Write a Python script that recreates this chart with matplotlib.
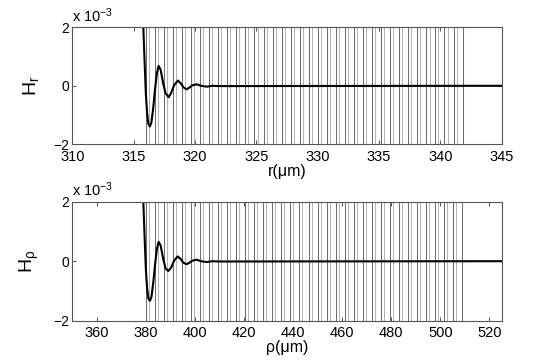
import matplotlib
matplotlib.use('Agg')
import matplotlib.pyplot as plt

plt.rcParams['font.family'] = ['Liberation Sans', 'DejaVu Sans']
plt.rcParams['mathtext.fontset'] = 'custom'
plt.rcParams['mathtext.rm'] = 'Liberation Sans'
plt.rcParams['mathtext.it'] = 'Liberation Sans'

# layer boundaries (um), two interface types per period
r_edges_a = [316.00, 316.74, 317.48, 318.21, 318.95, 319.69, 320.43, 321.16, 321.90,
             322.64, 323.38, 324.11, 324.85, 325.59, 326.33, 327.06, 327.80, 328.54,
             329.28, 330.01, 330.75, 331.49, 332.23, 332.96, 333.70, 334.44, 335.18,
             335.92, 336.65, 337.39, 338.13, 338.87, 339.60, 340.34, 341.08, 341.82]
r_edges_b = [316.25, 316.99, 317.73, 318.46, 319.20, 319.94, 320.68, 321.41, 322.15,
             322.89, 323.63, 324.36, 325.10, 325.84, 326.58, 327.31, 328.05, 328.79,
             329.53, 330.26, 331.00, 331.74, 332.48, 333.21, 333.95, 334.69, 335.43,
             336.17, 336.90, 337.64, 338.38, 339.12, 339.85, 340.59, 341.33]
rho_edges_a = [379.90, 383.59, 387.28, 390.96, 394.65, 398.34, 402.03, 405.72, 409.40,
               413.09, 416.78, 420.47, 424.16, 427.84, 431.53, 435.22, 438.91, 442.60,
               446.28, 449.97, 453.66, 457.35, 461.04, 464.72, 468.41, 472.10, 475.79,
               479.48, 483.16, 486.85, 490.54, 494.23, 497.92, 501.60, 505.29, 508.98]
rho_edges_b = [381.12, 384.81, 388.50, 392.18, 395.87, 399.56, 403.25, 406.94, 410.62,
               414.31, 418.00, 421.69, 425.38, 429.06, 432.75, 436.44, 440.13, 443.82,
               447.50, 451.19, 454.88, 458.57, 462.26, 465.94, 469.63, 473.32, 477.01,
               480.70, 484.38, 488.07, 491.76, 495.45, 499.14, 502.82, 506.51]

# field profiles (units of 1e-3)
r = [315.70, 315.80, 315.90, 316.00, 316.10, 316.20, 316.33, 316.45, 316.60, 316.75,
     316.90, 317.04, 317.20, 317.40, 317.60, 317.85, 318.05, 318.30, 318.61, 318.85,
     319.05, 319.32, 319.55, 319.80, 320.16, 320.50, 320.97, 321.40, 321.90, 345.00]
Hr = [3.00, 1.90, 0.75, -0.30, -0.95, -1.30, -1.39, -1.25, -0.75, -0.10,
      0.45, 0.68, 0.55, 0.10, -0.25, -0.39, -0.25, 0.02, 0.18, 0.08,
      -0.05, -0.12, -0.06, 0.02, 0.05, 0.00, -0.03, 0.00, -0.01, 0.00]
rho = [378.50, 379.00, 379.50, 380.00, 380.50, 381.00, 381.65, 382.25, 383.00, 383.75,
       384.50, 385.20, 386.00, 387.00, 388.00, 389.10, 390.25, 391.50, 392.95, 394.25,
       395.25, 396.60, 397.75, 399.00, 400.70, 402.50, 404.80, 407.00, 409.50, 525.00]
Hrho = [3.00, 1.90, 0.75, -0.30, -0.92, -1.25, -1.33, -1.20, -0.72, -0.10,
        0.43, 0.65, 0.53, 0.10, -0.24, -0.33, -0.22, 0.02, 0.16, 0.07,
        -0.05, -0.10, -0.05, 0.02, 0.05, 0.00, -0.03, 0.00, -0.01, 0.00]

fig = plt.figure(figsize=(5.54, 3.61), dpi=100)
ax1 = fig.add_axes([0.1305, 0.6003, 0.775, 0.3241])
ax2 = fig.add_axes([0.1305, 0.1116, 0.775, 0.3297])

panels = [
    (ax1, r_edges_a, r_edges_b, r, Hr, (310, 345), list(range(310, 346, 5)), 'r(μm)', 'H$_\\mathrm{r}$'),
    (ax2, rho_edges_a, rho_edges_b, rho, Hrho, (350, 525), list(range(360, 521, 20)), 'ρ(μm)', 'H$_\\mathrm{ρ}$'),
]

for ax, ea, eb, x, y, xl, xt, xlab, ylab in panels:
    for e in ea:
        ax.axvline(e, color='#6e6e6e', lw=0.75)
    for e in eb:
        ax.axvline(e, color='#b4b4b4', lw=0.75)
    ax.plot(x, y, color='black', lw=1.5)
    ax.set_xlim(*xl)
    ax.set_ylim(-2, 2)
    ax.set_xticks(xt)
    ax.set_yticks([-2, 0, 2])
    ax.tick_params(direction='in', top=True, right=True, length=3, width=0.6,
                   labelsize=10.5, pad=2, colors='#333333', labelcolor='black')
    ax.tick_params(axis='x', pad=4)
    ax.tick_params(axis='y', labelsize=10)
    for s in ax.spines.values():
        s.set_color('#555555')
        s.set_linewidth(0.8)
    ax.set_xlabel(xlab, fontsize=11.5, labelpad=0)
    ax.set_ylabel(ylab, fontsize=14, labelpad=9)
    ax.text(0.0, 1.02, 'x 10$^{-3}$', transform=ax.transAxes, fontsize=10.5,
            ha='left', va='bottom')

fig.savefig('out.png', dpi=100)
